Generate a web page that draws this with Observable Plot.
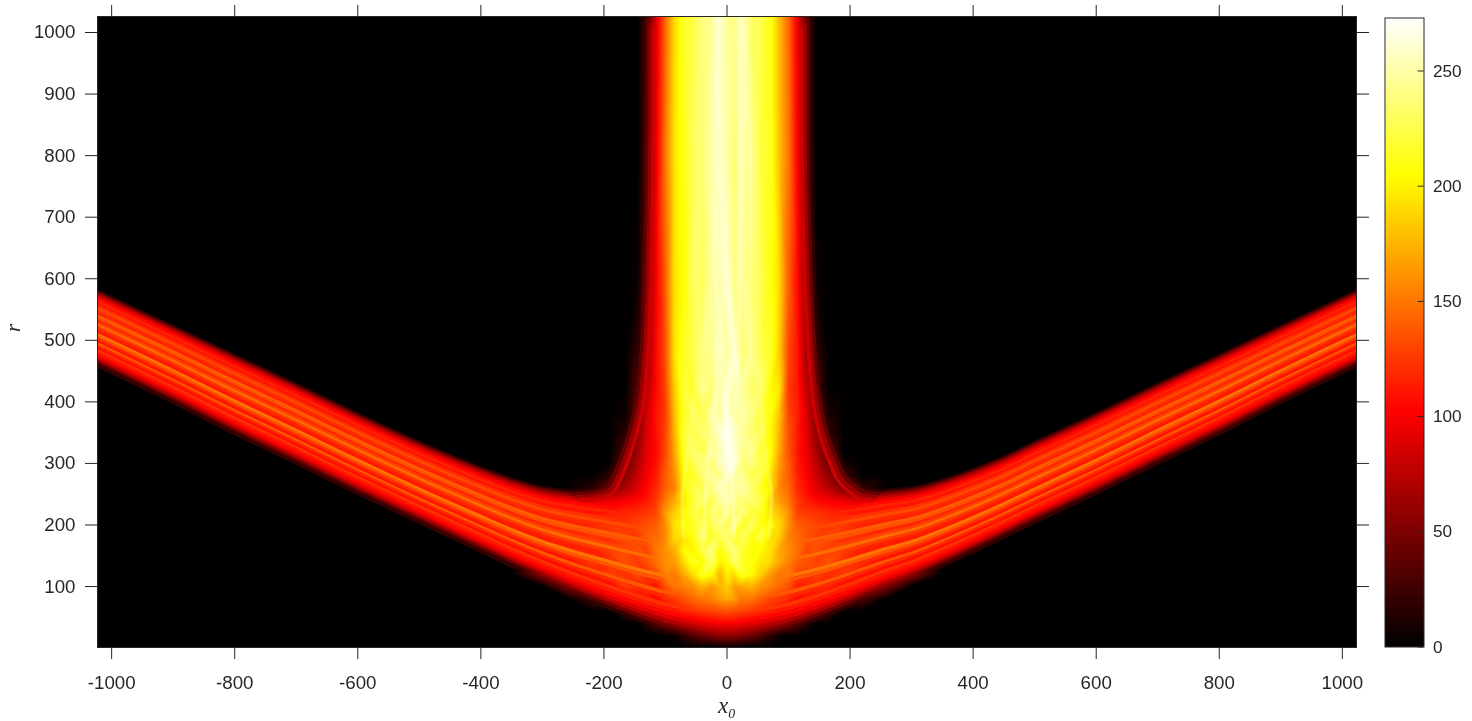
<!DOCTYPE html>
<html>
<head>
<meta charset="utf-8">
<script src="https://cdn.jsdelivr.net/npm/d3@7"></script>
<script src="https://cdn.jsdelivr.net/npm/@observablehq/plot@0.6"></script>
<style>
html,body{margin:0;padding:0;background:#fff;overflow:hidden}
#chart{position:relative;width:1472px;height:721px}
#chart svg{position:absolute;top:0}
</style>
</head>
<body>
<div id="chart"></div>
<script>
// Tick labels
const xTicks = [-1000,-800,-600,-400,-200,0,200,400,600,800,1000];
const rTicks = [100,200,300,400,500,600,700,800,900,1000];
const barTicks = [0,50,100,150,200,250];

// Heat values read across the central column, one row per radius
const centreX = [-350,-300,-260,-220,-190,-165,-145,-130,-115,-100,-85,-70,-55,-40,-25,-12,0,12,25,40,55,70,85,100,115,130,145,165,190,220,260,300,350];
const centreR = [1026,800,600,480,420,380,350,320,300,280,260,240,220,200,180,160,140,120,100,80,60,40,20,1];
const centreV = [
[0,0,0,0,0,0,0, 30,90,145,190,215,222,238,245,262,245,240,255,232,225,212,178,145,95,35, 0,0,0,0,0,0,0],
[0,0,0,0,0,0,0, 35,95,150,195,210,228,235,250,258,250,235,250,245,220,215,180,150,100,38, 0,0,0,0,0,0,0],
[0,0,0,0,0,0,5, 48,100,140,195,205,232,228,248,252,262,240,245,238,225,210,190,140,105,50, 5,0,0,0,0,0,0],
[0,0,0,0,0,0,20, 60,105,135,195,215,225,240,242,258,248,262,235,245,222,218,185,130,110,62, 22,0,0,0,0,0,0],
[0,0,0,0,0,0,35, 75,105,130,185,220,215,245,235,250,262,250,248,230,235,205,195,125,112,78, 35,0,0,0,0,0,0],
[0,0,0,0,0,5,45, 85,110,125,180,215,230,225,250,245,268,240,250,240,222,210,180,130,115,88, 50,10,0,0,0,0,0],
[0,0,0,0,0,15,55, 88,108,130,175,220,225,235,240,262,272,255,245,235,228,205,175,135,112,90, 58,20,0,0,0,0,0],
[0,0,0,0,0,30,65, 92,105,130,170,215,235,225,245,250,270,262,240,245,220,210,170,135,110,95, 68,35,0,0,0,0,0],
[0,0,0,0,3,40,72, 95,108,135,165,210,225,240,235,255,265,268,235,240,225,205,165,140,112,98, 75,45,5,0,0,0,0],
[0,0,0,0,20,55,80, 100,112,140,160,205,215,235,245,240,262,250,245,225,228,195,160,140,115,102, 82,60,25,0,0,0,0],
[0,0,0,15,45,70,90, 105,118,142,155,200,225,225,240,255,250,245,250,235,215,200,155,145,118,105, 92,75,50,18,0,0,0],
[0,85,70,85,95,100,105, 112,125,150,170,195,220,235,225,245,255,240,235,235,225,190,165,150,125,112, 105,100,95,85,70,85,0],
[0,100,95,110,112,118,120, 125,130,165,185,200,225,215,235,230,250,228,240,220,215,195,180,160,128,125, 122,118,115,108,95,100,0],
[0,105,105,118,125,122,130, 135,140,160,195,205,215,225,225,240,225,245,215,230,210,205,190,160,140,135, 130,125,125,115,105,105,0],
[0,110,110,125,120,130,125, 140,145,158,190,195,210,235,215,225,235,215,230,210,225,195,185,155,145,135, 128,130,120,122,110,110,0],
[0,108,118,112,128,130,135, 130,150,160,175,205,200,225,240,205,225,240,220,205,205,195,170,160,148,130, 135,128,128,115,115,108,0],
[0,100,105,125,120,135,125, 135,148,160,165,190,215,205,235,200,210,235,215,210,195,190,170,155,140,135, 128,135,118,120,105,100,0],
[0,60,85,115,128,122,130, 120,132,155,150,170,195,215,205,175,200,190,215,205,185,165,150,150,130,125, 128,120,125,112,85,60,0],
[0,0,50,85,100,125,118, 118,110,135,150,155,160,175,165,175,185,165,170,175,160,155,145,135,112,115, 120,118,100,85,50,0,0],
[0,0,0,30,65,85,105, 110,100,120,125,135,145,150,155,165,170,165,150,150,140,130,125,118,105,110, 105,85,68,32,0,0,0],
[0,0,0,0,0,30,50, 70,85,100,108,118,122,128,130,132,135,132,130,125,120,115,105,98,85,70, 52,30,2,0,0,0,0],
[0,0,0,0,0,0,0, 15,35,50,62,75,85,92,96,100,100,100,95,92,85,72,62,50,35,15, 0,0,0,0,0,0,0],
[0,0,0,0,0,0,0, 0,0,0,5,18,32,42,50,55,58,55,50,42,32,18,5,0,0,0, 0,0,0,0,0,0,0],
[0,0,0,0,0,0,0, 0,0,0,0,0,0,0,0,0,0,0,0,0,0,0,0,0,0,0, 0,0,0,0,0,0,0]
];
const farCorners = [[-1024,1],[1024,1],[-1024,1026],[1024,1026]];

// Upper and lower edge of the V-shaped band, read at these positions
const bandX =   [-1024,-900,-800,-700,-600,-500,-400,-350,-300,-250,-200,-150,-100,-50,0,50,100,150,200,253,309,378,450,500,600,700,800,900,1024];
const bandTop = [582,524,477,430,382,336,295,277,263,257,253,248,245,243,242,243,245,248,253,258,264,284,312,336,382,430,477,524,582];
const bandBot = [456,396,345,297,248,201,154,130,107,84,63,43,25,14,7,14,25,43,64,88,111,143,177,201,248,297,345,396,456];

// Streaks inside the band: position across it (0 top, 1 bottom) and heat value
const streakPos = [.015,.035,.055,.08,.105,.13,.16,.19,.22,.25,.28,.31,.34,.37,.40,.43,.46,.49,.52,.55,.58,.61,.64,.67,.70,.73,.76,.79,.82,.85,.88,.91,.94,.97];
const streakVal = [15,35,58,78,95,106,116,110,122,132,120,116,140,134,118,128,146,126,116,112,150,136,120,110,138,118,108,122,112,104,90,70,45,22];

// Edge of the flare that climbs from the band into the column
const flareLeftX  = [-256,-230,-212,-200,-193,-182,-170,-155,-145,-138,-136];
const flareLeftR  = [258,258,262,272,285,310,344,402,500,727,1026];
const flareRightX = [253,231,221,205,195,184,172,159,149,140,138];
const flareRightR = [258,260,267,280,293,318,349,402,500,727,1026];
const flareInset = [2,7,12,17];
const flareVal = [16,40,62,82];

// Wisps running down the column: x at each radius, and heat value
const wispR = [1026,678,500,400,320,250,180,130];
const wisps = [
  {v:262,x:[-20,-18,-17,-20,-28,-35,-38,null]},
  {v:268,x:[21,20,19,14,8,10,12,null]},
  {v:240,x:[-44,-45,-48,-54,-64,-72,-70,null]},
  {v:238,x:[50,51,53,56,62,72,68,null]}
];

// Long tables the library reads
const centreTable = [];
centreR.forEach((r,i)=>centreX.forEach((x,j)=>centreTable.push({x,r,v:centreV[i][j]})));
farCorners.forEach(([x,r])=>centreTable.push({x,r,v:0}));

const streaks = [];
streakPos.forEach((f,k)=>bandX.forEach((x,i)=>streaks.push({k,x,r:bandTop[i]+f*(bandBot[i]-bandTop[i]),v:streakVal[k]})));

const flares = [];
flareInset.forEach((d,k)=>{
  flareLeftX.forEach((x,i)=>flares.push({k:"L"+k,x:x+d,r:flareLeftR[i]-d,v:flareVal[k]}));
  flareRightX.forEach((x,i)=>flares.push({k:"R"+k,x:x-d,r:flareRightR[i]-d,v:flareVal[k]}));
});

const wispTable = [];
wisps.forEach((w,k)=>wispR.forEach((r,i)=>{ if (w.x[i]!==null) wispTable.push({k,x:w.x[i],r,v:w.v}); }));

const hot = {type:"linear",domain:[0,102.4,204.8,273],range:["#000000","#ff0000","#ffff00","#ffffff"],clamp:true};
const ink = "#262626";
const sans = "'Liberation Sans',Arial,sans-serif";

const main = Plot.plot({
  width:1472,height:721,
  marginLeft:97,marginRight:116,marginTop:16,marginBottom:74,
  style:{background:"transparent",color:ink,fontFamily:sans,fontSize:"18.7px"},
  x:{domain:[-1023,1023],label:null},
  y:{domain:[1,1026],label:null},
  color:hot,
  marks:[
    Plot.frame({fill:"black",stroke:null}),
    Plot.line(streaks,{x:"x",y:"r",z:"k",stroke:"v",strokeWidth:4,curve:"catmull-rom",clip:true}),
    Plot.line(flares,{x:"x",y:"r",z:"k",stroke:"v",strokeWidth:4,curve:"catmull-rom",clip:true}),
    Plot.raster(centreTable,{x:"x",y:"r",fill:"v",interpolate:"barycentric",mixBlendMode:"lighten"}),
    Plot.line(wispTable,{x:"x",y:"r",z:"k",stroke:"v",strokeWidth:3.5,strokeOpacity:0.35,curve:"catmull-rom",clip:true,mixBlendMode:"lighten"}),
    Plot.frame({stroke:ink,strokeWidth:1}),
    Plot.axisX(xTicks,{anchor:"bottom",tickSize:12,tickPadding:16,tickFormat:d=>String(d),label:null,stroke:ink}),
    Plot.axisX(xTicks,{anchor:"top",tickSize:12,fill:"none",label:null,stroke:ink}),
    Plot.axisY(rTicks,{anchor:"left",tickSize:12,tickPadding:10,tickFormat:d=>String(d),label:null,stroke:ink}),
    Plot.axisY(rTicks,{anchor:"right",tickSize:12,fill:"none",label:null,stroke:ink}),
    Plot.text(["x₀"],{frameAnchor:"bottom",dy:65,fontFamily:"'Liberation Serif',serif",fontStyle:"italic",fontSize:23,fill:ink}),
    Plot.text(["r"],{frameAnchor:"left",dx:-84,rotate:-90,fontFamily:"'Liberation Serif',serif",fontStyle:"italic",fontSize:21,fill:ink})
  ]
});
main.style.left="0px";

const barLevels = d3.range(0,273,1);
const bar = Plot.plot({
  width:88,height:721,
  marginLeft:0.5,marginRight:48.5,marginTop:17.5,marginBottom:74.5,
  style:{background:"transparent",color:ink,fontFamily:sans,fontSize:"17.2px"},
  x:{domain:[0,1],axis:null},
  y:{domain:[0,273],label:null},
  color:hot,
  marks:[
    Plot.rect(barLevels,{x1:0,x2:1,y1:d=>d,y2:d=>d+1.2,fill:d=>d+0.5,shapeRendering:"crispEdges"}),
    Plot.ruleY(barTicks,{x1:0.85,x2:1,stroke:ink}),
    Plot.frame({stroke:ink,strokeWidth:1}),
    Plot.axisY(barTicks,{anchor:"right",tickSize:0,tickPadding:9,tickFormat:d=>String(d),label:null})
  ]
});
bar.style.left="1384px";

const host = document.getElementById("chart");
host.appendChild(main);
host.appendChild(bar);
</script>
</body>
</html>
